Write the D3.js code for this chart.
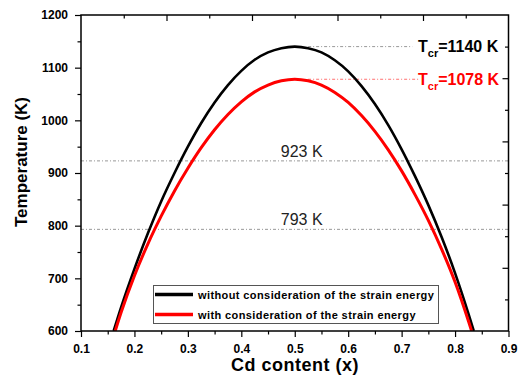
<!DOCTYPE html>
<html>
<head>
<meta charset="utf-8">
<script src="https://cdn.jsdelivr.net/npm/d3@7"></script>
<style>
  body { margin: 0; background: #fff; }
  text { font-family: "Liberation Sans", Arial, sans-serif; }
</style>
</head>
<body>
<script>
'use strict';

// without consideration of the strain energy (black)
const blackX = [0.161, 0.175, 0.2, 0.225, 0.25, 0.275, 0.3, 0.325, 0.35, 0.375, 0.4, 0.425, 0.45, 0.475, 0.5,
  0.525, 0.55, 0.575, 0.6, 0.625, 0.65, 0.675, 0.7, 0.725, 0.75, 0.775, 0.8, 0.825, 0.835];
const blackT = [600, 645, 718, 785, 846, 900, 950, 995, 1034, 1067, 1094, 1115, 1129, 1137, 1140,
  1137, 1129, 1114, 1093, 1065, 1031, 991, 945, 894, 839, 778, 710, 633, 600];

// with consideration of the strain energy (red)
const redX = [0.164, 0.175, 0.2, 0.225, 0.25, 0.275, 0.3, 0.325, 0.35, 0.375, 0.4, 0.425, 0.45, 0.475, 0.5,
  0.525, 0.55, 0.575, 0.6, 0.625, 0.65, 0.675, 0.7, 0.725, 0.75, 0.775, 0.8, 0.825, 0.831];
const redT = [600, 635, 705, 765, 818, 866, 909, 948, 982, 1011, 1035, 1054, 1067, 1075, 1078,
  1075, 1067, 1053, 1034, 1009, 979, 944, 904, 859, 810, 755, 693, 619, 600];

const xTicks = [0.1, 0.2, 0.3, 0.4, 0.5, 0.6, 0.7, 0.8, 0.9];
const xMinorTicks = [0.15, 0.25, 0.35, 0.45, 0.55, 0.65, 0.75, 0.85];
const yTicks = [600, 700, 800, 900, 1000, 1100, 1200];
const yMinorTicks = [650, 750, 850, 950, 1050, 1150];

const refTemps = [923, 793];
const refLabels = ["923 K", "793 K"];
const tcrValues = [1140, 1078];
const tcrColors = ["#000000", "#ff0000"];
const legendLabels = ["without consideration of the strain energy", "with consideration of the strain energy"];

(function() {

  let svgContainer = "";
  let xScale = "";
  let yScale = "";

  const left = 81, right = 508.5, top = 15, bottom = 331;

  svgContainer = d3.select('body')
    .append('svg')
    .attr('width', 524)
    .attr('height', 382);

  xScale = d3.scaleLinear().domain([0.1, 0.9]).range([left, right]);
  yScale = d3.scaleLinear().domain([600, 1200]).range([bottom, top]);

  drawRefLines();
  plotData();
  drawAxes();
  makeLegend();
  makeLabels();

  // dotted guide lines and their labels
  function drawRefLines() {
    svgContainer.selectAll('.ref')
      .data(refTemps)
      .enter()
      .append('line')
        .attr('x1', xScale(0.1))
        .attr('x2', xScale(0.9))
        .attr('y1', (d) => yScale(d))
        .attr('y2', (d) => yScale(d))
        .attr('stroke', '#999')
        .attr('stroke-width', 1)
        .attr('stroke-dasharray', '3,2,1,2');

    svgContainer.selectAll('.refText')
      .data(refTemps)
      .enter()
      .append('text')
        .attr('x', xScale(0.513))
        .attr('y', (d) => yScale(d) - 4)
        .attr('text-anchor', 'middle')
        .style('font-size', '16px')
        .style('fill', '#222')
        .text((d, i) => refLabels[i]);

    // critical temperature lines
    let ends = [0.72, 0.733];
    svgContainer.selectAll('.tcr')
      .data(tcrValues)
      .enter()
      .append('line')
        .attr('x1', xScale(0.525))
        .attr('x2', (d, i) => xScale(ends[i]))
        .attr('y1', (d) => yScale(d))
        .attr('y2', (d) => yScale(d))
        .attr('stroke', (d, i) => i == 0 ? '#999' : '#ff7070')
        .attr('stroke-width', 1)
        .attr('stroke-dasharray', '3,2,1,2');

    let tcr = svgContainer.selectAll('.tcrText')
      .data(tcrValues)
      .enter()
      .append('text')
        .attr('x', 418)
        .attr('y', (d) => yScale(d) + 5.5)
        .style('font-size', '16px')
        .style('font-weight', 'bold')
        .style('fill', (d, i) => tcrColors[i]);
    tcr.append('tspan').text('T');
    tcr.append('tspan').attr('dy', 5).style('font-size', '11px').text('cr');
    tcr.append('tspan').attr('dy', -5).text((d) => '=' + d + ' K');
  }

  // plot both curves
  function plotData() {
    svgContainer.append('clipPath').attr('id', 'plotClip')
      .append('rect')
        .attr('x', left).attr('y', top)
        .attr('width', right - left).attr('height', bottom - top);

    let line = d3.line()
      .x((d) => xScale(d[0]))
      .y((d) => yScale(d[1]))
      .curve(d3.curveMonotoneX);

    let series = [
      { pts: d3.zip(blackX, blackT), color: '#000000', w: 2.6 },
      { pts: d3.zip(redX, redT), color: '#ff0000', w: 3 }
    ];

    svgContainer.selectAll('.curve')
      .data(series)
      .enter()
      .append('path')
        .attr('clip-path', 'url(#plotClip)')
        .attr('d', (d) => line(d.pts))
        .attr('fill', 'none')
        .attr('stroke', (d) => d.color)
        .attr('stroke-width', (d) => d.w);
  }

  // draw the axes and ticks
  function drawAxes() {
    let yAxis = d3.axisLeft(yScale).tickValues(yTicks).tickSize(6).tickPadding(7).tickSizeOuter(0)
      .tickFormat(d3.format('d'));
    let yMinor = d3.axisLeft(yScale).tickValues(yMinorTicks).tickSize(3.5).tickFormat('').tickSizeOuter(0);
    let xAxis = d3.axisBottom(xScale).tickValues(xTicks).tickSize(6).tickPadding(7).tickSizeOuter(0)
      .tickFormat(d3.format('.1f'));
    let xMinor = d3.axisBottom(xScale).tickValues(xMinorTicks).tickSize(3.5).tickFormat('').tickSizeOuter(0);

    // top and right axes have ten divisions, ticks pointing inward
    let divScaleX = d3.scaleLinear().domain([0, 10]).range([left, right]);
    let divScaleY = d3.scaleLinear().domain([0, 10]).range([top, bottom]);
    let topMajor = d3.axisTop(divScaleX).tickValues([2, 4, 6, 8]).tickSize(-6).tickFormat('').tickSizeOuter(0);
    let topMinor = d3.axisTop(divScaleX).tickValues([1, 3, 5, 7, 9]).tickSize(-3.5).tickFormat('').tickSizeOuter(0);
    let rightMajor = d3.axisRight(divScaleY).tickValues([2, 4, 6, 8]).tickSize(-6).tickFormat('').tickSizeOuter(0);
    let rightMinor = d3.axisRight(divScaleY).tickValues([1, 3, 5, 7, 9]).tickSize(-3.5).tickFormat('').tickSizeOuter(0);

    let axes = [
      [yAxis, `translate(${left},0)`], [yMinor, `translate(${left},0)`],
      [xAxis, `translate(0,${bottom})`], [xMinor, `translate(0,${bottom})`],
      [topMajor, `translate(0,${top})`], [topMinor, `translate(0,${top})`],
      [rightMajor, `translate(${right},0)`], [rightMinor, `translate(${right},0)`]
    ];
    axes.forEach((a) => {
      let g = svgContainer.append('g').attr('transform', a[1]).call(a[0]);
      g.select('.domain').remove();
      g.selectAll('line').attr('stroke', '#000').attr('stroke-width', 1.2);
      g.selectAll('text')
        .style('font-family', '"Liberation Sans", Arial, sans-serif')
        .style('font-size', '12px')
        .style('font-weight', 'bold')
        .style('fill', '#000');
    });

    // frame
    svgContainer.append('rect')
      .attr('x', left).attr('y', top)
      .attr('width', right - left).attr('height', bottom - top)
      .attr('fill', 'none')
      .attr('stroke', '#000')
      .attr('stroke-width', 1.5);
  }

  // legend box
  function makeLegend() {
    svgContainer.append('rect')
      .attr('x', 153.5).attr('y', 285.5)
      .attr('width', 285).attr('height', 38)
      .attr('fill', '#fff')
      .attr('stroke', '#555')
      .attr('stroke-width', 1);

    let colors = ['#000000', '#ff0000'];
    let rows = svgContainer.selectAll('.leg')
      .data(legendLabels)
      .enter()
      .append('g')
        .attr('transform', (d, i) => `translate(155, ${294.5 + i * 20})`);
    rows.append('line')
      .attr('x1', 0).attr('x2', 38)
      .attr('stroke', (d, i) => colors[i])
      .attr('stroke-width', 3.5);
    rows.append('text')
      .attr('x', 43)
      .attr('y', 4)
      .style('font-size', '11px')
      .style('font-weight', 'bold')
      .style('letter-spacing', '0.4px')
      .text((d) => d);
  }

  // axis titles
  function makeLabels() {
    svgContainer.append('text')
      .attr('x', 295)
      .attr('y', 371)
      .attr('text-anchor', 'middle')
      .style('font-size', '18px')
      .style('font-weight', 'bold')
      .style('letter-spacing', '0.5px')
      .text('Cd content (x)');

    svgContainer.append('text')
      .attr('transform', 'translate(27, 162)rotate(-90)')
      .attr('text-anchor', 'middle')
      .style('font-size', '17px')
      .style('font-weight', 'bold')
      .text('Temperature (K)');
  }

})();
</script>
</body>
</html>
